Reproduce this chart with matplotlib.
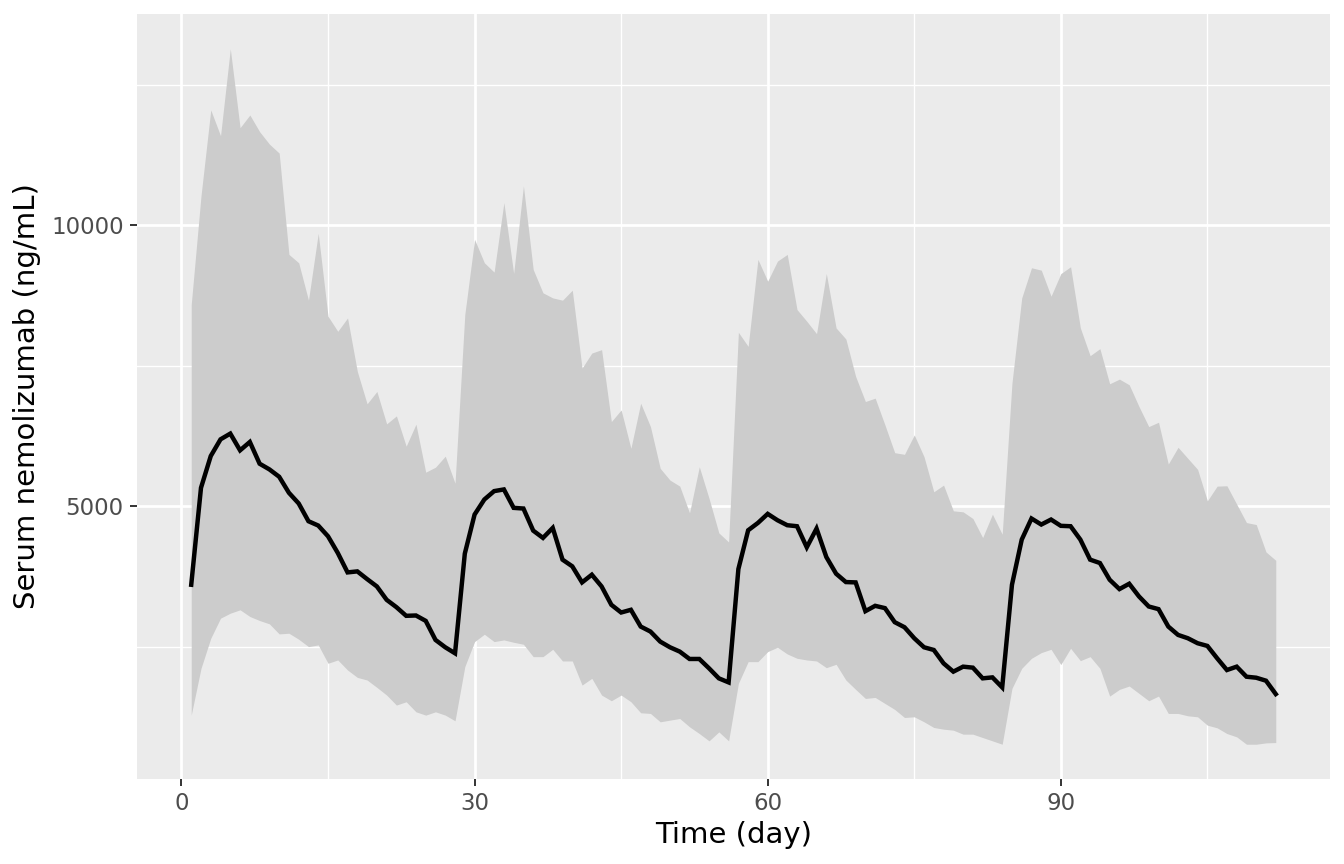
import matplotlib
matplotlib.use("Agg")
import matplotlib.pyplot as plt
import numpy as np

days = list(range(1, 113))

upper = [8589, 10524, 12054, 11595, 13143, 11738, 11964, 11667, 11446, 11286,
         9482, 9333, 8667, 9857, 8381, 8113, 8351, 7399, 6822, 7042,
         6465, 6607, 6068, 6459, 5605, 5694, 5890, 5409, 8411, 9750,
         9333, 9167, 10405, 9143, 10702, 9214, 8798, 8708, 8667, 8845,
         7458, 7726, 7786, 6506, 6714, 6030, 6833, 6417, 5673, 5464,
         5357, 4881, 5702, 5137, 4524, 4363, 8095, 7845, 9393, 9006,
         9363, 9482, 8500, 8292, 8071, 9143, 8173, 7976, 7310, 6863,
         6923, 6446, 5952, 5923, 6268, 5881, 5256, 5375, 4917, 4899,
         4780, 4441, 4857, 4500, 7190, 8708, 9244, 9202, 8738, 9140,
         9262, 8173, 7679, 7804, 7179, 7262, 7161, 6774, 6417, 6494,
         5750, 6048, 5851, 5655, 5095, 5357, 5363, 5036, 4708, 4673,
         4185, 4036]

median = [3601, 5327, 5893, 6190, 6292, 5994, 6143, 5756, 5655, 5524,
          5238, 5048, 4732, 4655, 4464, 4167, 3821, 3839, 3702, 3571,
          3333, 3202, 3048, 3054, 2958, 2619, 2488, 2381, 4155, 4851,
          5119, 5268, 5298, 4970, 4958, 4565, 4435, 4613, 4048, 3929,
          3643, 3780, 3571, 3244, 3107, 3155, 2857, 2768, 2589, 2488,
          2411, 2280, 2280, 2113, 1935, 1863, 3881, 4571, 4702, 4863,
          4750, 4661, 4643, 4268, 4601, 4095, 3798, 3649, 3643, 3131,
          3226, 3185, 2935, 2845, 2649, 2488, 2440, 2202, 2054, 2143,
          2125, 1935, 1952, 1774, 3601, 4405, 4780, 4673, 4762, 4650,
          4643, 4405, 4048, 3988, 3690, 3524, 3619, 3393, 3214, 3167,
          2857, 2708, 2649, 2560, 2512, 2292, 2083, 2143, 1964, 1946,
          1893, 1655]

lower = [1280, 2113, 2649, 3006, 3095, 3155, 3036, 2964, 2905, 2726,
         2738, 2631, 2500, 2530, 2203, 2262, 2083, 1952, 1905, 1774,
         1637, 1459, 1518, 1339, 1280, 1339, 1280, 1179, 2143, 2589,
         2720, 2589, 2619, 2577, 2542, 2321, 2321, 2452, 2244, 2244,
         1815, 1935, 1637, 1536, 1637, 1518, 1322, 1310, 1161, 1191,
         1220, 1072, 952, 822, 982, 822, 1845, 2232, 2232, 2411,
         2488, 2369, 2292, 2262, 2244, 2125, 2185, 1905, 1738, 1577,
         1595, 1488, 1381, 1238, 1250, 1161, 1060, 1030, 1012, 941,
         941, 881, 822, 762, 1756, 2113, 2292, 2393, 2452, 2180,
         2470, 2250, 2321, 2113, 1619, 1738, 1798, 1667, 1536, 1619,
         1310, 1310, 1268, 1250, 1101, 1054, 952, 893, 762, 762,
         786, 792]

x_ticks = [0, 30, 60, 90]
x_minor = [15, 45, 75, 105]
y_ticks = [5000, 10000]
y_minor = [2500, 7500, 12500]
x_label = "Time (day)"
y_label = "Serum nemolizumab (ng/mL)"

W, H = 1344, 864
fig = plt.figure(figsize=(W / 100, H / 100), dpi=100)
fig.patch.set_facecolor("white")
l, r, t, b = 137, 1330, 14, 779
ax = fig.add_axes([l / W, (H - b) / H, (r - l) / W, (b - t) / H])
ax.set_facecolor("#EBEBEB")

ax.fill_between(days, lower, upper, color="#CCCCCC", linewidth=0, zorder=2)
ax.plot(days, median, color="black", linewidth=3.2, zorder=3,
        solid_joinstyle="miter")

xr = max(days) - min(days)
ax.set_xlim(min(days) - 0.05 * xr, max(days) + 0.05 * xr)
ymin, ymax = min(lower), max(upper)
yr = ymax - ymin
ax.set_ylim(ymin - 0.05 * yr, ymax + 0.05 * yr)

ax.set_xticks(x_ticks)
ax.set_xticks(x_minor, minor=True)
ax.set_yticks(y_ticks)
ax.set_yticks(y_minor, minor=True)
ax.set_xticklabels([str(v) for v in x_ticks])
ax.set_yticklabels([str(v) for v in y_ticks])

ax.grid(which="major", color="white", linewidth=2.0, zorder=1)
ax.grid(which="minor", color="white", linewidth=1.0, zorder=1)
ax.set_axisbelow(True)

for s in ax.spines.values():
    s.set_visible(False)

ax.tick_params(which="major", length=5.3, width=1.4, color="#333333",
               labelsize=16.5, labelcolor="#4D4D4D", pad=4.2)
ax.tick_params(which="minor", length=0)

ax.set_xlabel(x_label, fontsize=21, color="black", labelpad=4)
ax.set_ylabel(y_label, fontsize=21, color="black", labelpad=7)

fig.savefig("out.png", dpi=100, facecolor="white")
